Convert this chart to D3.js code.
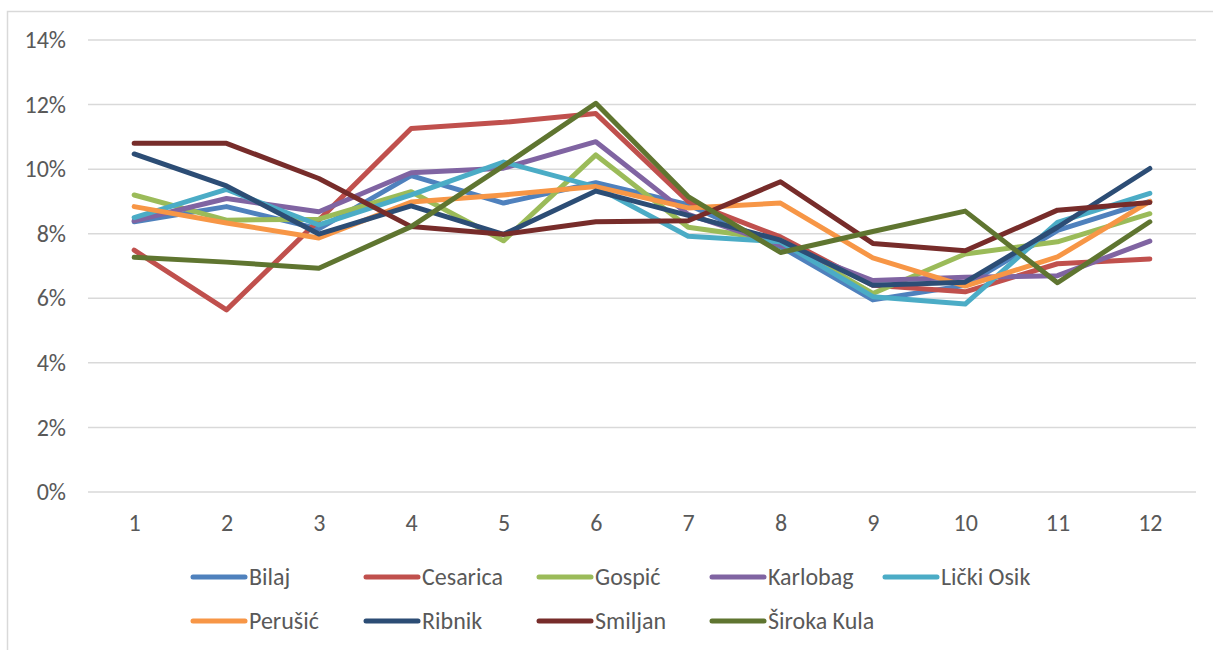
<!DOCTYPE html>
<html><head><meta charset="utf-8">
<script src="https://cdnjs.cloudflare.com/ajax/libs/d3/7.8.5/d3.min.js"></script>
<style>
html,body{margin:0;padding:0;background:#fff;}
text{font-family:Carlito,Calibri,Lato,sans-serif;fill:#595959;}
</style></head>
<body>
<svg id="chart" width="1213" height="650"></svg>
<script>
const months = ["1","2","3","4","5","6","7","8","9","10","11","12"];
const seriesNames = ["Bilaj","Cesarica","Gospić","Karlobag","Lički Osik","Perušić","Ribnik","Smiljan","Široka Kula"];
const colors = ["#4F81BD","#C0504D","#9BBB59","#8064A2","#4BACC6","#F79646","#2C4D75","#772C2A","#5F7530"];
const bilaj     = [8.37,8.84,8.15,9.8,8.95,9.58,8.9,7.6,5.95,6.4,8.1,9.0];
const cesarica  = [7.49,5.64,8.42,11.26,11.45,11.72,9.0,7.9,6.4,6.2,7.07,7.22];
const gospic    = [9.2,8.42,8.45,9.3,7.78,10.44,8.2,7.8,6.15,7.37,7.75,8.62];
const karlobag  = [8.4,9.09,8.68,9.89,10.03,10.85,8.6,7.65,6.55,6.65,6.7,7.77];
const lickiOsik = [8.5,9.37,8.27,9.2,10.22,9.45,7.92,7.75,6.05,5.82,8.35,9.25];
const perusic   = [8.84,8.33,7.87,8.98,9.2,9.46,8.8,8.95,7.25,6.38,7.28,9.0];
const ribnik    = [10.47,9.48,7.99,8.86,7.98,9.32,8.57,7.8,6.4,6.5,8.2,10.02];
const smiljan   = [10.8,10.8,9.71,8.22,7.98,8.37,8.4,9.61,7.7,7.47,8.73,8.97];
const sirokaKula= [7.27,7.12,6.93,8.22,10.1,12.04,9.15,7.42,8.07,8.7,6.48,8.37];
const yTicks = [0,2,4,6,8,10,12,14];

const allSeries = [bilaj,cesarica,gospic,karlobag,lickiOsik,perusic,ribnik,smiljan,sirokaKula];

const svg = d3.select("#chart");
svg.append("rect").attr("x",7.5).attr("y",11.5).attr("width",1230).attr("height",660)
  .attr("fill","#fff").attr("stroke","#d9d9d9").attr("stroke-width",1.5);

const x = d3.scalePoint().domain(months).range([88,1196]).padding(0.5);
const y = d3.scaleLinear().domain([0,14]).range([492,40]);

const grid = svg.append("g");
grid.selectAll("line").data(yTicks).join("line")
  .attr("x1",88).attr("x2",1196)
  .attr("y1",d=>y(d)).attr("y2",d=>y(d))
  .attr("stroke","#d9d9d9").attr("stroke-width",1.5);

const yAxis = d3.axisLeft(y).tickValues(yTicks).tickFormat(d=>d+"%").tickSize(0).tickPadding(0);
const yg = svg.append("g").attr("transform","translate(66,0)").call(yAxis);
yg.select(".domain").remove();
yg.attr("font-family",null);
yg.selectAll("text").attr("font-size",24).attr("fill","#595959");

const xAxis = d3.axisBottom(x).tickSize(0).tickPadding(0);
const xg = svg.append("g").attr("transform","translate(0,514)").call(xAxis);
xg.select(".domain").remove();
xg.attr("font-family",null);
xg.selectAll("text").attr("font-size",24).attr("dy","0.71em").attr("fill","#595959");

const line = d3.line().x((d,i)=>x(months[i])).y(d=>y(d));
svg.append("g").selectAll("path").data(allSeries).join("path")
  .attr("d",line).attr("fill","none")
  .attr("stroke",(d,i)=>colors[i]).attr("stroke-width",5)
  .attr("stroke-linejoin","round").attr("stroke-linecap","round");

const leg = svg.append("g");
seriesNames.forEach((n,i)=>{
  const row = i<5?0:1, col = i<5?i:i-5;
  const lx = 191 + col*173, ly = row===0?577:621;
  leg.append("line").attr("x1",lx+2).attr("x2",lx+54).attr("y1",ly).attr("y2",ly)
    .attr("stroke",colors[i]).attr("stroke-width",5).attr("stroke-linecap","round");
  leg.append("text").attr("x",lx+58).attr("y",ly).attr("dy","0.34em")
    .attr("font-size",24).text(n);
});
</script>
</body></html>
